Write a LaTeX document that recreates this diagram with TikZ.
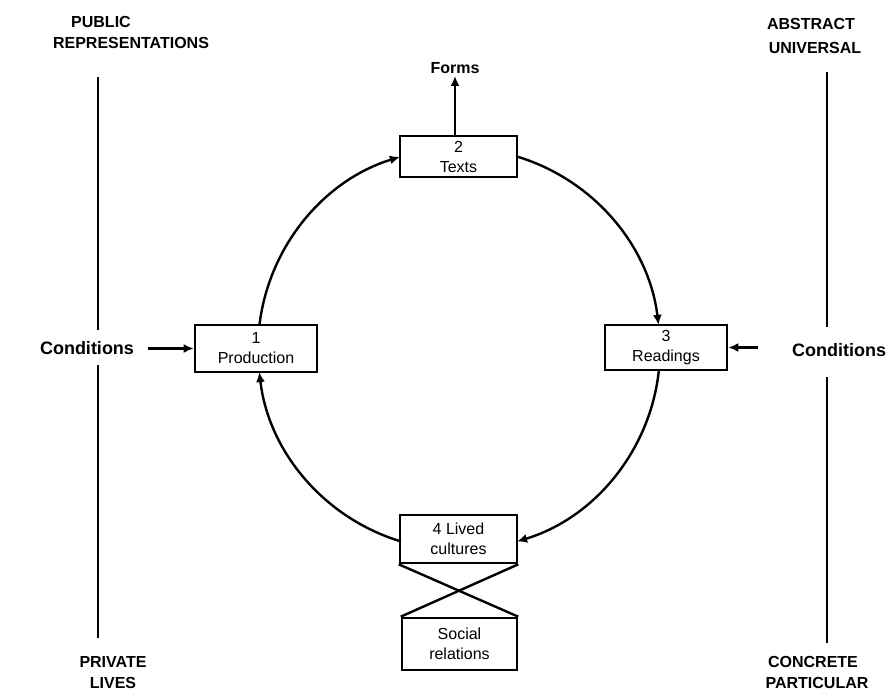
\documentclass[tikz,border=0pt]{standalone}
\usepackage{fontspec}
\setmainfont{Liberation Sans}
\usetikzlibrary{arrows.meta}
\begin{document}
\begin{tikzpicture}[x=0.5pt,y=-0.5pt,
  box/.style={draw,line width=1.3pt,inner sep=0pt,align=center,font=\fontsize{8}{10}\selectfont},
  lab/.style={font=\bfseries\fontsize{8}{10}\selectfont,align=center,inner sep=1pt},
  cond/.style={font=\bfseries\fontsize{9}{11}\selectfont,inner sep=1pt},
  ln/.style={line width=1.2pt},
  arr/.style={line width=1.2pt,-{Latex[length=5pt,width=4.5pt]}}]
\useasboundingbox (0,0) rectangle (889,691);
% boxes
\node[box,minimum width=58.5pt,minimum height=20.5pt] (texts) at (458.5,156.5) {2\\Texts};
\node[box,minimum width=61pt,minimum height=23.5pt] (prod) at (256,348.5) {1\\Production};
\node[box,minimum width=61pt,minimum height=22.5pt] (read) at (666,347.5) {3\\Readings};
\node[box,minimum width=58.5pt,minimum height=24pt] (lived) at (458.5,539) {4 Lived\\cultures};
\node[box,minimum width=57.5pt,minimum height=26pt] (social) at (459.5,644) {Social\\relations};
% labels
\node[lab] (forms) at (455,68) {Forms};
\node[cond] (condL) at (87,348) {Conditions};
\node[cond] (condR) at (839,350) {Conditions};
\node[lab] (pub1) at (101,22) {PUBLIC};
\node[lab] (pub2) at (131,43) {REPRESENTATIONS};
\node[lab] (abs1) at (811,24) {ABSTRACT};
\node[lab] (abs2) at (815,48) {UNIVERSAL};
\node[lab] (priv1) at (113,662) {PRIVATE};
\node[lab] (priv2) at (113,683) {LIVES};
\node[lab] (con1) at (813,662) {CONCRETE};
\node[lab] (con2) at (817,683) {PARTICULAR};
% circle
\coordinate (C) at (459,349);
\draw[arr] (C) ++(186.9:201) arc[start angle=186.9,end angle=252.9,radius=201];
\draw[arr] (C) ++(287.1:201) arc[start angle=287.1,end angle=353.1,radius=201];
\draw[arr] (C) ++(6.0:201) arc[start angle=6.0,end angle=73.2,radius=201];
\draw[arr] (C) ++(106.8:201) arc[start angle=106.8,end angle=173.4,radius=201];
% other connectors
\draw[arr] (texts.north -| forms.south) -- (forms.south);
\coordinate (cl) at (148,348.5);
\draw[arr] (cl) -- (cl -| prod.west);
\coordinate (cr) at (758,347.5);
\draw[arr] (cr) -- (cr -| read.east);
\draw[ln] (lived.south west) -- (social.north east);
\draw[ln] (lived.south east) -- (social.north west);
% vertical axes
\draw[ln] (98,77) -- (98,330);
\draw[ln] (98,365) -- (98,638);
\draw[ln] (827,72) -- (827,327);
\draw[ln] (827,377) -- (827,643);
\end{tikzpicture}
\end{document}
